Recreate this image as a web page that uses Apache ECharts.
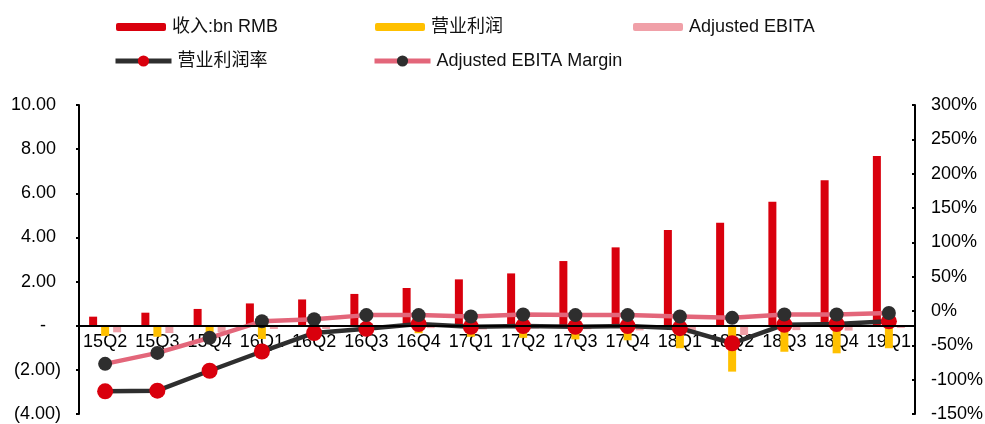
<!DOCTYPE html>
<html>
<head>
<meta charset="utf-8">
<script src="https://cdn.jsdelivr.net/npm/echarts@6/dist/echarts.min.js"></script>
<style>
  html, body { margin: 0; padding: 0; background: #fff; }
  #chart { width: 985px; height: 424px; }
</style>
</head>
<body>
<div id="chart"></div>
<script>
// Quarterly figures
const categories = ['15Q2','15Q3','15Q4','16Q1','16Q2','16Q3','16Q4','17Q1','17Q2','17Q3','17Q4','18Q1','18Q2','18Q3','18Q4','19Q1'];
// bn RMB
const revenue = [0.41, 0.59, 0.76, 1.01, 1.19, 1.44, 1.71, 2.10, 2.37, 2.93, 3.55, 4.34, 4.67, 5.62, 6.59, 7.69];
const operatingProfit = [-0.46, -0.50, -0.52, -0.60, -0.38, -0.36, -0.34, -0.50, -0.55, -0.62, -0.66, -1.02, -2.08, -1.18, -1.25, -1.02];
const adjustedEbita = [-0.30, -0.33, -0.30, -0.15, -0.15, -0.08, -0.11, -0.17, -0.12, -0.16, -0.21, -0.36, -0.42, -0.20, -0.22, -0.10];
// margins, %
const operatingMargin = [-117, -116, -87, -59, -32, -26, -19, -23, -22, -23, -22, -25, -47, -20, -19, -15];
const ebitaMargin = [-77, -61, -39, -15, -12, -6, -6, -8, -5, -6, -6, -8, -10, -5, -5, -3];

// axis ranges and tick steps
const leftAxis = { min: -4, max: 10, step: 2 };
const rightAxis = { min: -150, max: 300, step: 50 };

const names = ['收入:bn RMB', '营业利润', 'Adjusted EBITA', '营业利润率', 'Adjusted EBITA Margin'];

const FONT = "'Liberation Sans', Arial, 'Noto Sans CJK SC', sans-serif";
const RED = '#D9000D', YELLOW = '#FFC000', PINK_BAR = '#F0A0A8', PINK_LINE = '#E3667A', DARK = '#2E2E2E';

// plot box
const GRID = { left: 79, right: 70, top: 105, bottom: 10 };
const CHART_H = 424;
const plotH = CHART_H - GRID.top - GRID.bottom;
// the category axis sits on the zero of the left value axis
const zeroOffset = -plotH * (0 - leftAxis.min) / (leftAxis.max - leftAxis.min);

function legendAt(name, left, top, w, h, lineWidth) {
  const lg = {
    data: [name], left: left, top: top, padding: 0,
    itemWidth: w, itemHeight: h, itemGap: 0,
    textStyle: { fontFamily: FONT, fontSize: 18, color: '#111', padding: [0, 0, 0, 1] },
    selectedMode: false
  };
  if (lineWidth) lg.lineStyle = { width: lineWidth };
  return lg;
}

function leftLabel(v) {
  if (v === 0) return '-   ';
  if (v < 0) return '(' + Math.abs(v).toFixed(2) + ')';
  return v.toFixed(2) + ' ';
}

const chart = echarts.init(document.getElementById('chart'), null, { renderer: 'canvas' });
chart.setOption({
  animation: false,
  backgroundColor: '#fff',
  legend: [
    legendAt(names[0], 116, 18, 50, 8),
    legendAt(names[1], 375, 18, 50, 8),
    legendAt(names[2], 633, 18, 50, 8),
    legendAt(names[3], 113, 52, 56, 14, 5),
    legendAt(names[4], 372, 52, 56, 14, 5)
  ],
  grid: Object.assign({ containLabel: false, outerBoundsMode: 'none' }, GRID),
  xAxis: {
    type: 'category',
    position: 'bottom',
    offset: zeroOffset,
    data: categories,
    axisLine: { show: true, onZero: false, lineStyle: { color: '#000', width: 2 } },
    axisTick: { show: false },
    axisLabel: { fontFamily: FONT, fontSize: 18, color: '#000', margin: 7, interval: 0 },
    splitLine: { show: false },
    z: 1
  },
  yAxis: [
    {
      type: 'value', position: 'left',
      min: leftAxis.min, max: leftAxis.max, interval: leftAxis.step,
      axisLine: { show: true, onZero: false, lineStyle: { color: '#000', width: 2 } },
      axisTick: { show: true, length: 3, lineStyle: { color: '#000', width: 2 } },
      axisLabel: { fontFamily: FONT, fontSize: 18, color: '#000', margin: 18, formatter: leftLabel },
      splitLine: { show: false }
    },
    {
      type: 'value', position: 'right',
      min: rightAxis.min, max: rightAxis.max, interval: rightAxis.step,
      axisLine: { show: true, onZero: false, lineStyle: { color: '#000', width: 2 } },
      axisTick: { show: true, inside: true, length: 3, lineStyle: { color: '#000', width: 2 } },
      axisLabel: { fontFamily: FONT, fontSize: 18, color: '#000', margin: 16, formatter: v => v + '%' },
      splitLine: { show: false }
    }
  ],
  series: [
    { name: names[0], type: 'bar', yAxisIndex: 0, data: revenue, barWidth: 8, barGap: '50%',
      itemStyle: { color: RED },
      // zero baseline across the plot
      markLine: {
        silent: true, symbol: 'none', label: { show: false },
        lineStyle: { color: '#000', width: 2, type: 'solid' },
        data: [{ yAxis: 0 }]
      } },
    { name: names[1], type: 'bar', yAxisIndex: 0, data: operatingProfit, barWidth: 8, barGap: '50%',
      itemStyle: { color: YELLOW } },
    { name: names[2], type: 'bar', yAxisIndex: 0, data: adjustedEbita, barWidth: 8, barGap: '50%',
      itemStyle: { color: PINK_BAR } },
    { name: names[3], type: 'line', yAxisIndex: 1, data: operatingMargin,
      symbol: 'circle', symbolSize: 16, showAllSymbol: true,
      lineStyle: { color: DARK, width: 4.5 }, itemStyle: { color: RED }, z: 3 },
    { name: names[4], type: 'line', yAxisIndex: 1, data: ebitaMargin,
      symbol: 'circle', symbolSize: 14, showAllSymbol: true,
      lineStyle: { color: PINK_LINE, width: 4.5 }, itemStyle: { color: DARK }, z: 4 }
  ]
});
</script>
</body>
</html>
